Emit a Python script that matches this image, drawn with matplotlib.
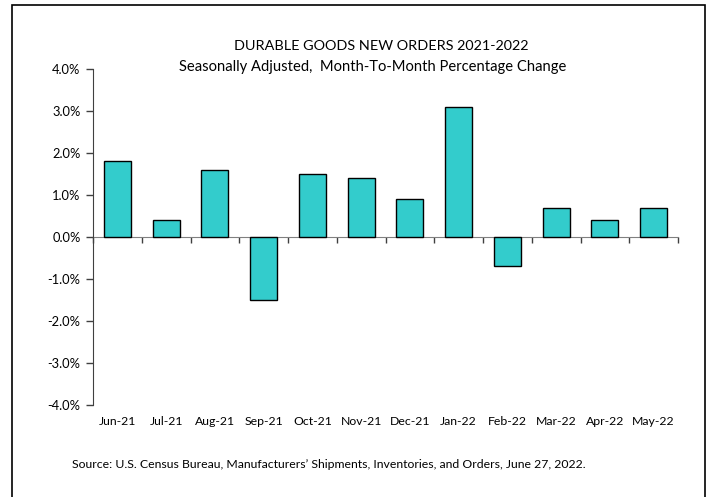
import numpy as np
import matplotlib.pyplot as plt
from matplotlib.patches import Rectangle
from matplotlib.ticker import FuncFormatter

months = ['Jun-21','Jul-21','Aug-21','Sep-21','Oct-21','Nov-21',
          'Dec-21','Jan-22','Feb-22','Mar-22','Apr-22','May-22']
pct_change = [1.8, 0.4, 1.6, -1.5, 1.5, 1.4, 0.9, 3.1, -0.7, 0.7, 0.4, 0.7]
y_ticks = [-4, -3, -2, -1, 0, 1, 2, 3, 4]

plt.rcParams['font.family'] = ['Lato', 'DejaVu Sans']

fig = plt.figure(figsize=(7.08, 4.97), dpi=100)
ax = fig.add_axes([93/708, 1-405/497, (678-93)/708, 336/497])

x = np.arange(len(months))
ax.bar(x, pct_change, width=0.55, color='#33CCCC', edgecolor='black', linewidth=1, zorder=3)

ax.set_xlim(-0.5, len(months)-0.5)
ax.set_ylim(-4, 4)
ax.set_yticks(y_ticks)
ax.yaxis.set_major_formatter(FuncFormatter(lambda v, p: '%.1f%%' % v))
ax.tick_params(axis='y', direction='out', length=5, width=1, labelsize=9.3, pad=4, color='#404040')

for s in ['top', 'right']:
    ax.spines[s].set_visible(False)
ax.spines['left'].set_color('#404040')
ax.spines['bottom'].set_position(('data', 0))
ax.spines['bottom'].set_color('#808080')
ax.spines['bottom'].set_zorder(2)

# boundary ticks on the zero line, labels drawn at the bottom
ax.set_xticks(np.arange(len(months)+1) - 0.5)
ax.set_xticklabels([])
ax.tick_params(axis='x', direction='out', length=4, width=1, color='#404040')
for i, m in enumerate(months):
    ax.text(i, -0.048, m, transform=ax.get_xaxis_transform(), ha='center', va='center', fontsize=8.8)

fig.text(0.538, 1-46/497, 'DURABLE GOODS NEW ORDERS 2021-2022', ha='center', va='center', fontsize=10.4)
fig.text(0.527, 1-67/497, 'Seasonally Adjusted,  Month-To-Month Percentage Change', ha='center', va='center', fontsize=10.6)
fig.text(72/708, 1-465/497, 'Source: U.S. Census Bureau, Manufacturers\u2019 Shipments, Inventories, and Orders, June 27, 2022.',
         ha='left', va='center', fontsize=8.8)

fig.patches.append(Rectangle((12/708, -0.05), (705-12)/708, 1-5/497+0.05, transform=fig.transFigure,
                             fill=False, edgecolor='black', linewidth=1.2))

fig.savefig('out.png', dpi=100)
